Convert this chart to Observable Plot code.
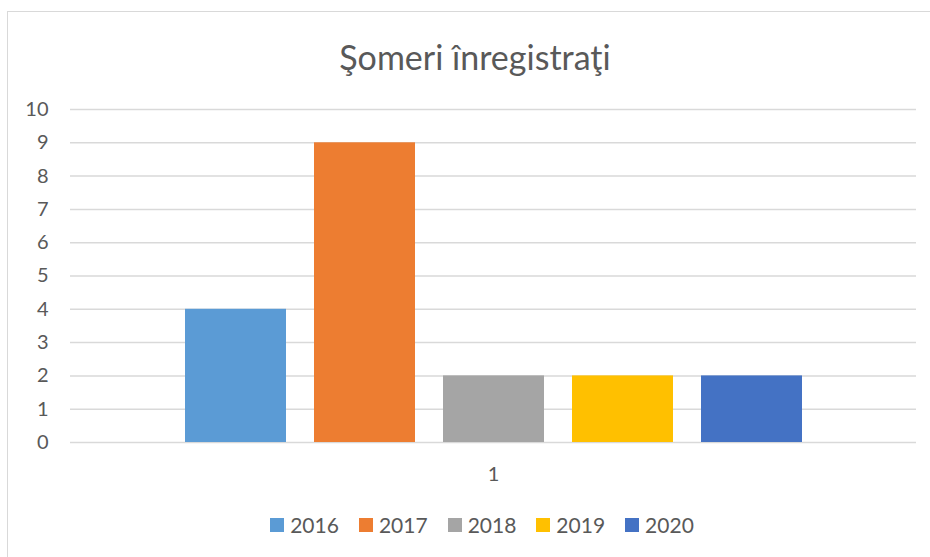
<!DOCTYPE html>
<html><head><meta charset="utf-8">
<script src="https://cdn.jsdelivr.net/npm/d3@7"></script>
<script src="https://cdn.jsdelivr.net/npm/@observablehq/plot@0.6"></script>
<style>
body{margin:0;background:#fff;}
#wrap{position:relative;width:930px;height:557px;overflow:hidden;font-family:Lato,"Open Sans",sans-serif;color:#595959;}
#frame{position:absolute;left:7px;top:11px;width:960px;height:600px;border:1.5px solid #d9d9d9;box-sizing:border-box;}
#title{position:absolute;left:0;width:950px;top:36px;text-align:center;font-size:34px;line-height:42px;}
#chart{position:absolute;left:0;top:0;}
#legend{position:absolute;left:0;width:964px;top:512px;display:flex;justify-content:center;font-size:21px;line-height:26px;}
#legend .item{display:flex;align-items:center;margin:0 10px;}
#legend .sw{width:14px;height:14px;margin-right:6px;}
</style></head>
<body>
<div id="wrap"><div id="frame"></div><div id="chart"></div><div id="title">Şomeri înregistraţi</div><div id="legend"></div></div>
<script>
const categories = ["1"];
const years = ["2016", "2017", "2018", "2019", "2020"];
const values = [4, 9, 2, 2, 2];
const colors = ["#5b9bd5", "#ed7d31", "#a5a5a5", "#ffc000", "#4472c4"];
const yTicks = [0, 1, 2, 3, 4, 5, 6, 7, 8, 9, 10];

const data = years.map((y, i) => ({group: categories[0], year: y, value: values[i]}));

const chart = Plot.plot({
  width: 930, height: 557,
  marginTop: 109, marginBottom: 115, marginLeft: 70, marginRight: 14,
  style: {fontFamily: "Lato, 'Open Sans', sans-serif", fontSize: "20px", color: "#595959", background: "transparent"},
  fx: {domain: categories, padding: 0, label: null, axis: "bottom", tickSize: 0, tickPadding: 24},
  x: {domain: years, axis: null, paddingInner: 0.22, paddingOuter: 0.876},
  y: {domain: [0, 10], ticks: yTicks, label: null, tickSize: 0, tickPadding: 22},
  color: {domain: years, range: colors},
  marks: [
    Plot.ruleY(yTicks, {stroke: "#d9d9d9", strokeWidth: 1.5}),
    Plot.barY(data, {fx: "group", x: "year", y: "value", fill: "year"})
  ]
});
document.getElementById("chart").appendChild(chart);

const legend = document.getElementById("legend");
years.forEach((y, i) => {
  const it = document.createElement("div"); it.className = "item";
  const sw = document.createElement("div"); sw.className = "sw"; sw.style.background = colors[i];
  const t = document.createElement("span"); t.textContent = y;
  it.appendChild(sw); it.appendChild(t); legend.appendChild(it);
});
</script>
</body></html>
